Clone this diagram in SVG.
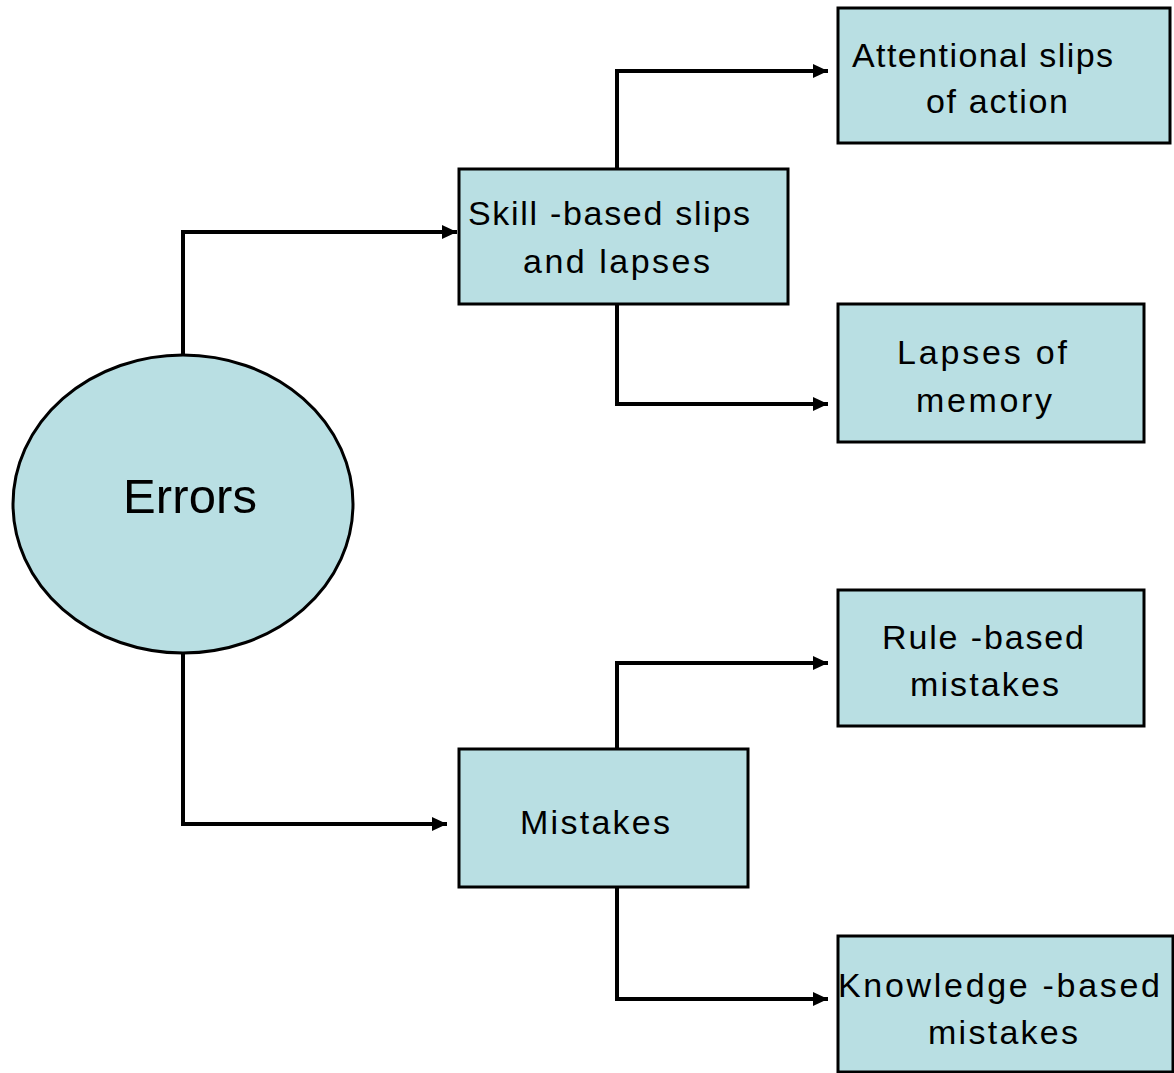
<svg xmlns="http://www.w3.org/2000/svg" width="1174" height="1073" viewBox="0 0 1174 1073">
  <style>
    .node { fill: #B9DFE3; stroke: #000; stroke-width: 3; }
    .label { font-family: "Liberation Sans", Arial, sans-serif; font-size: 34px; fill: #000; }
    .big { font-size: 49px; }
    .wire { fill: none; stroke: #000; stroke-width: 4; stroke-linejoin: miter; }
  </style>
  <defs>
    <marker id="arrow" viewBox="0 0 15 14" refX="15" refY="7" markerWidth="15" markerHeight="14" markerUnits="userSpaceOnUse" orient="auto">
      <path d="M0,0 L15,7 L0,14 Z" fill="#000"/>
    </marker>
  </defs>
  <rect width="1174" height="1073" fill="#fff"/>

  <g id="connectors">
    <path class="wire" d="M183,355 V232 H457" marker-end="url(#arrow)"/>
    <path class="wire" d="M183,653 V824 H447" marker-end="url(#arrow)"/>
    <path class="wire" d="M617,169 V71 H828" marker-end="url(#arrow)"/>
    <path class="wire" d="M617,304 V404 H828" stroke-width="5.5" marker-end="url(#arrow)"/>
    <path class="wire" d="M617,749 V663 H828" marker-end="url(#arrow)"/>
    <path class="wire" d="M617,888 V999 H828" marker-end="url(#arrow)"/>
  </g>

  <g id="errors">
    <ellipse class="node" cx="183" cy="504" rx="170" ry="149"/>
    <text class="label big" x="123" y="513" textLength="134" lengthAdjust="spacing">Errors</text>
  </g>

  <g id="skill-based">
    <rect class="node" x="459" y="169" width="329" height="135"/>
    <text class="label" x="468" y="225" textLength="282" lengthAdjust="spacing">Skill -based slips</text>
    <text class="label" x="523" y="273" textLength="187" lengthAdjust="spacing">and lapses</text>
  </g>

  <g id="attentional-slips">
    <rect class="node" x="838" y="8" width="332" height="135"/>
    <text class="label" x="852" y="67" textLength="261" lengthAdjust="spacing">Attentional slips</text>
    <text class="label" x="926" y="113" textLength="142" lengthAdjust="spacing">of action</text>
  </g>

  <g id="lapses-of-memory">
    <rect class="node" x="838" y="304" width="306" height="138"/>
    <text class="label" x="897" y="364" textLength="170" lengthAdjust="spacing">Lapses of</text>
    <text class="label" x="916" y="412" textLength="136" lengthAdjust="spacing">memory</text>
  </g>

  <g id="mistakes">
    <rect class="node" x="459" y="749" width="289" height="138"/>
    <text class="label" x="520" y="834" textLength="150" lengthAdjust="spacing">Mistakes</text>
  </g>

  <g id="rule-based">
    <rect class="node" x="838" y="590" width="306" height="136"/>
    <text class="label" x="882" y="649" textLength="202" lengthAdjust="spacing">Rule -based</text>
    <text class="label" x="910" y="696" textLength="149" lengthAdjust="spacing">mistakes</text>
  </g>

  <g id="knowledge-based">
    <rect class="node" x="838" y="936" width="335" height="136"/>
    <text class="label" x="838" y="997" textLength="322" lengthAdjust="spacing">Knowledge -based</text>
    <text class="label" x="928" y="1044" textLength="150" lengthAdjust="spacing">mistakes</text>
  </g>
</svg>
